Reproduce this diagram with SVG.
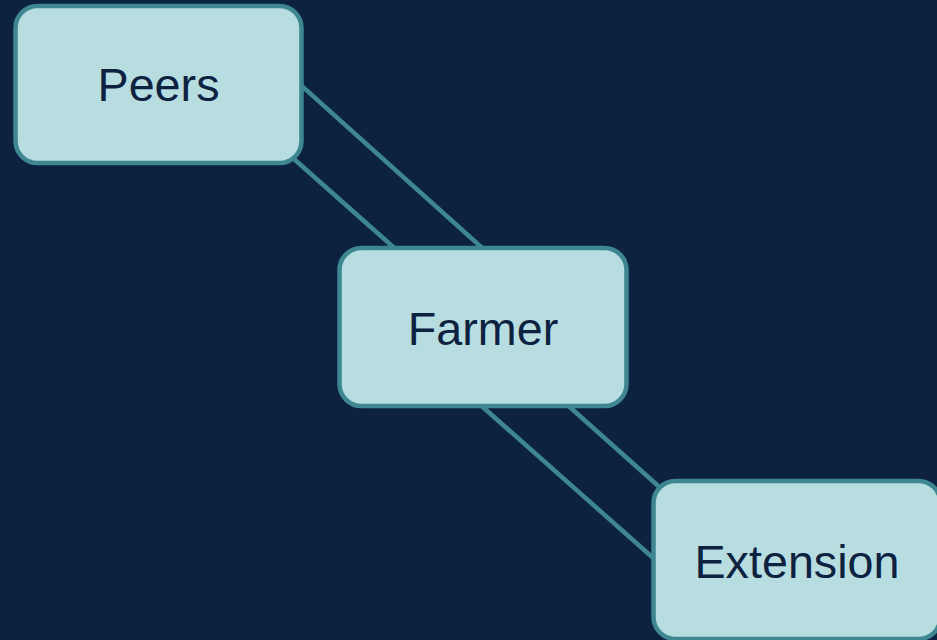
<svg xmlns="http://www.w3.org/2000/svg" width="937" height="640" viewBox="0 0 937 640">
<style>
.node rect{fill:#b7dde1;stroke:#3e8790;stroke-width:4.5}
.node text{font-family:"Liberation Sans",Arial,sans-serif;font-size:46.7px;fill:#0d2240;text-anchor:middle}
.edges line{stroke:#3e8790;stroke-width:4.5}
</style>
<rect width="937" height="640" fill="#0d2240"/>
<g class="edges">
<line x1="290" y1="75.4" x2="490" y2="255"/>
<line x1="285" y1="151" x2="400" y2="253"/>
<line x1="476" y1="401" x2="660" y2="564"/>
<line x1="563" y1="401" x2="665" y2="492"/>
</g>
<g id="peers" class="node">
<rect x="15.5" y="6" width="286" height="157" rx="22"/>
<text x="158.5" y="101">Peers</text>
</g>
<g id="farmer" class="node">
<rect x="339.5" y="248" width="287" height="158" rx="22"/>
<text x="483" y="345">Farmer</text>
</g>
<g id="extension" class="node">
<rect x="653.5" y="481" width="287" height="158" rx="22"/>
<text x="797" y="578">Extension</text>
</g>
</svg>
